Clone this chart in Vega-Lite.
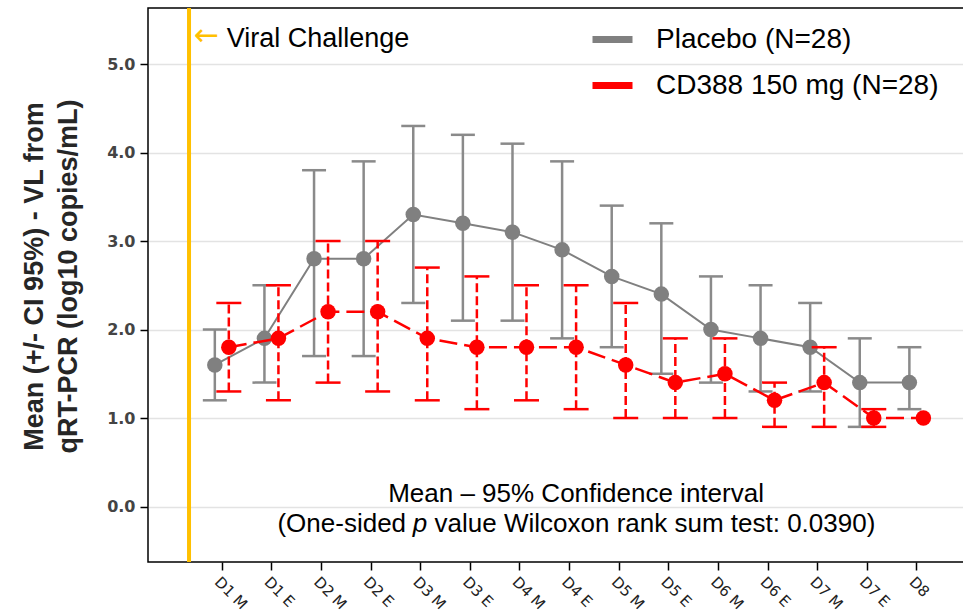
{
  "$schema": "https://vega.github.io/schema/vega-lite/v6.json",
  "width": 817,
  "height": 554,
  "autosize": {"type": "none"},
  "padding": {"left": 148, "top": 8, "right": 0, "bottom": 53},
  "background": "white",
  "config": {
    "view": {"stroke": "#000", "strokeWidth": 1.5},
    "font": "Liberation Sans"
  },
  "datasets": {
    "vl": [
      {"day": "D1 M", "t": 1, "group": "Placebo (N=28)", "mean": 1.6, "lo": 1.2, "hi": 2.0},
      {"day": "D1 E", "t": 2, "group": "Placebo (N=28)", "mean": 1.9, "lo": 1.4, "hi": 2.5},
      {"day": "D2 M", "t": 3, "group": "Placebo (N=28)", "mean": 2.8, "lo": 1.7, "hi": 3.8},
      {"day": "D2 E", "t": 4, "group": "Placebo (N=28)", "mean": 2.8, "lo": 1.7, "hi": 3.9},
      {"day": "D3 M", "t": 5, "group": "Placebo (N=28)", "mean": 3.3, "lo": 2.3, "hi": 4.3},
      {"day": "D3 E", "t": 6, "group": "Placebo (N=28)", "mean": 3.2, "lo": 2.1, "hi": 4.2},
      {"day": "D4 M", "t": 7, "group": "Placebo (N=28)", "mean": 3.1, "lo": 2.1, "hi": 4.1},
      {"day": "D4 E", "t": 8, "group": "Placebo (N=28)", "mean": 2.9, "lo": 1.9, "hi": 3.9},
      {"day": "D5 M", "t": 9, "group": "Placebo (N=28)", "mean": 2.6, "lo": 1.8, "hi": 3.4},
      {"day": "D5 E", "t": 10, "group": "Placebo (N=28)", "mean": 2.4, "lo": 1.5, "hi": 3.2},
      {"day": "D6 M", "t": 11, "group": "Placebo (N=28)", "mean": 2.0, "lo": 1.4, "hi": 2.6},
      {"day": "D6 E", "t": 12, "group": "Placebo (N=28)", "mean": 1.9, "lo": 1.3, "hi": 2.5},
      {"day": "D7 M", "t": 13, "group": "Placebo (N=28)", "mean": 1.8, "lo": 1.3, "hi": 2.3},
      {"day": "D7 E", "t": 14, "group": "Placebo (N=28)", "mean": 1.4, "lo": 0.9, "hi": 1.9},
      {"day": "D8", "t": 15, "group": "Placebo (N=28)", "mean": 1.4, "lo": 1.1, "hi": 1.8},
      {"day": "D1 M", "t": 1, "group": "CD388 150 mg (N=28)", "mean": 1.8, "lo": 1.3, "hi": 2.3},
      {"day": "D1 E", "t": 2, "group": "CD388 150 mg (N=28)", "mean": 1.9, "lo": 1.2, "hi": 2.5},
      {"day": "D2 M", "t": 3, "group": "CD388 150 mg (N=28)", "mean": 2.2, "lo": 1.4, "hi": 3.0},
      {"day": "D2 E", "t": 4, "group": "CD388 150 mg (N=28)", "mean": 2.2, "lo": 1.3, "hi": 3.0},
      {"day": "D3 M", "t": 5, "group": "CD388 150 mg (N=28)", "mean": 1.9, "lo": 1.2, "hi": 2.7},
      {"day": "D3 E", "t": 6, "group": "CD388 150 mg (N=28)", "mean": 1.8, "lo": 1.1, "hi": 2.6},
      {"day": "D4 M", "t": 7, "group": "CD388 150 mg (N=28)", "mean": 1.8, "lo": 1.2, "hi": 2.5},
      {"day": "D4 E", "t": 8, "group": "CD388 150 mg (N=28)", "mean": 1.8, "lo": 1.1, "hi": 2.5},
      {"day": "D5 M", "t": 9, "group": "CD388 150 mg (N=28)", "mean": 1.6, "lo": 1.0, "hi": 2.3},
      {"day": "D5 E", "t": 10, "group": "CD388 150 mg (N=28)", "mean": 1.4, "lo": 1.0, "hi": 1.9},
      {"day": "D6 M", "t": 11, "group": "CD388 150 mg (N=28)", "mean": 1.5, "lo": 1.0, "hi": 1.9},
      {"day": "D6 E", "t": 12, "group": "CD388 150 mg (N=28)", "mean": 1.2, "lo": 0.9, "hi": 1.4},
      {"day": "D7 M", "t": 13, "group": "CD388 150 mg (N=28)", "mean": 1.4, "lo": 0.9, "hi": 1.8},
      {"day": "D7 E", "t": 14, "group": "CD388 150 mg (N=28)", "mean": 1.0, "lo": 0.9, "hi": 1.1},
      {"day": "D8", "t": 15, "group": "CD388 150 mg (N=28)", "mean": 1.0, "lo": null, "hi": null}
    ]
  },
  "data": {"name": "vl"},
  "encoding": {
    "x": {
      "field": "t",
      "type": "quantitative",
      "scale": {"domain": [-0.488, 15.98], "nice": false, "zero": false},
      "axis": {
        "values": [1, 2, 3, 4, 5, 6, 7, 8, 9, 10, 11, 12, 13, 14, 15],
        "labelExpr": "['D1 M','D1 E','D2 M','D2 E','D3 M','D3 E','D4 M','D4 E','D5 M','D5 E','D6 M','D6 E','D7 M','D7 E','D8'][datum.value-1]",
        "labelAngle": 45,
        "labelAlign": "left",
        "labelBaseline": "top",
        "labelFontSize": 15,
        "labelFont": "DejaVu Sans",
        "labelColor": "#222",
        "labelPadding": 4,
        "labelOverlap": false,
        "labelFlush": false,
        "labelBound": false,
        "tickSize": 8,
        "tickColor": "#000",
        "tickWidth": 1.5,
        "domain": false,
        "grid": false,
        "title": null
      }
    }
  },
  "layer": [
    {
      "data": {"values": [{"t": 0.339}]},
      "mark": {"type": "rule", "color": "#FFC000", "strokeWidth": 4},
      "encoding": {}
    },
    {
      "transform": [{"filter": "datum.group == 'Placebo (N=28)'"}],
      "mark": {"type": "rule", "color": "#8a8a8a", "strokeWidth": 2.5, "xOffset": -7},
      "encoding": {
        "y": {
          "field": "lo",
          "type": "quantitative",
          "scale": {"domain": [-0.627, 5.633], "nice": false, "zero": false},
          "axis": {
            "values": [0, 1, 2, 3, 4, 5],
            "format": ".1f",
            "labelFontSize": 16,
            "labelFont": "DejaVu Sans",
            "labelFontWeight": "bold",
            "labelColor": "#444",
            "labelPadding": 5,
            "labelFlush": false,
            "tickSize": 8,
            "tickColor": "#000",
            "tickWidth": 1.5,
            "domain": false,
            "grid": true,
            "gridColor": "#e3e3e3",
            "gridWidth": 1.5,
            "title": ["Mean (+/- CI 95%) - VL from", "qRT-PCR (log10 copies/mL)"],
            "titleFont": "Liberation Sans",
            "titleFontSize": 27,
            "titleFontWeight": "bold",
            "titleColor": "#262626",
            "titleAngle": -90,
            "titleAlign": "center",
            "titleBaseline": "top",
            "titleLineHeight": 34,
            "titleX": -127,
            "titleY": 268
          }
        },
        "y2": {"field": "hi"}
      }
    },
    {
      "transform": [{"filter": "datum.group == 'Placebo (N=28)'"}],
      "mark": {"type": "tick", "orient": "horizontal", "size": 24, "thickness": 2.5, "color": "#8a8a8a", "opacity": 1, "xOffset": -7},
      "encoding": {"y": {"field": "lo", "type": "quantitative"}}
    },
    {
      "transform": [{"filter": "datum.group == 'Placebo (N=28)'"}],
      "mark": {"type": "tick", "orient": "horizontal", "size": 24, "thickness": 2.5, "color": "#8a8a8a", "opacity": 1, "xOffset": -7},
      "encoding": {"y": {"field": "hi", "type": "quantitative"}}
    },
    {
      "transform": [{"filter": "datum.group == 'Placebo (N=28)'"}],
      "mark": {"type": "line", "strokeWidth": 2, "xOffset": -7},
      "encoding": {
        "y": {"field": "mean", "type": "quantitative"},
        "color": {
          "field": "group",
          "type": "nominal",
          "scale": {"domain": ["Placebo (N=28)", "CD388 150 mg (N=28)"], "range": ["#808080", "#ff0000"]},
          "legend": {
            "title": null,
            "orient": "none",
            "legendX": 441,
            "legendY": 8,
            "padding": 0,
            "symbolType": "stroke",
            "symbolSize": 1600,
            "symbolStrokeWidth": 7,
            "labelFontSize": 28,
            "labelFont": "Liberation Sans",
            "labelColor": "#000",
            "labelOffset": 20,
            "labelLimit": 500,
            "rowPadding": 8
          }
        }
      }
    },
    {
      "transform": [{"filter": "datum.group == 'Placebo (N=28)'"}],
      "mark": {"type": "circle", "size": 240, "color": "#808080", "opacity": 1, "xOffset": -7},
      "encoding": {"y": {"field": "mean", "type": "quantitative"}}
    },
    {
      "transform": [{"filter": "datum.group == 'CD388 150 mg (N=28)'"}],
      "mark": {"type": "rule", "color": "#ff0000", "strokeWidth": 2.5, "strokeDash": [9, 4], "xOffset": 7},
      "encoding": {
        "y": {"field": "lo", "type": "quantitative"},
        "y2": {"field": "hi"}
      }
    },
    {
      "transform": [{"filter": "datum.group == 'CD388 150 mg (N=28)'"}],
      "mark": {"type": "tick", "orient": "horizontal", "size": 25, "thickness": 2.5, "color": "#ff0000", "opacity": 1, "xOffset": 7},
      "encoding": {"y": {"field": "lo", "type": "quantitative"}}
    },
    {
      "transform": [{"filter": "datum.group == 'CD388 150 mg (N=28)'"}],
      "mark": {"type": "tick", "orient": "horizontal", "size": 25, "thickness": 2.5, "color": "#ff0000", "opacity": 1, "xOffset": 7},
      "encoding": {"y": {"field": "hi", "type": "quantitative"}}
    },
    {
      "transform": [{"filter": "datum.group == 'CD388 150 mg (N=28)'"}],
      "mark": {"type": "line", "strokeWidth": 2.5, "strokeDash": [18, 7], "color": "#ff0000", "xOffset": 7},
      "encoding": {
        "y": {"field": "mean", "type": "quantitative"}
      }
    },
    {
      "transform": [{"filter": "datum.group == 'CD388 150 mg (N=28)'"}],
      "mark": {"type": "circle", "size": 240, "color": "#ff0000", "opacity": 1, "xOffset": 7},
      "encoding": {"y": {"field": "mean", "type": "quantitative"}}
    },
    {
      "data": {"values": [{"t": 0.44, "y": 5.21, "text": "←"}]},
      "mark": {"type": "text", "align": "left", "baseline": "alphabetic", "font": "DejaVu Sans", "fontSize": 30, "color": "#FFC000"},
      "encoding": {"y": {"field": "y", "type": "quantitative"}, "text": {"field": "text"}}
    },
    {
      "data": {"values": [{"t": 1.099, "y": 5.192, "text": "Viral Challenge"}]},
      "mark": {"type": "text", "align": "left", "baseline": "alphabetic", "fontSize": 27, "color": "#000"},
      "encoding": {"y": {"field": "y", "type": "quantitative"}, "text": {"field": "text"}}
    },
    {
      "data": {"values": [{"t": 8.14, "y": 0.141, "text": "Mean – 95% Confidence interval"}]},
      "mark": {"type": "text", "align": "center", "baseline": "middle", "fontSize": 26, "color": "#000"},
      "encoding": {"y": {"field": "y", "type": "quantitative"}, "text": {"field": "text"}}
    },
    {
      "data": {"values": [{"t": 4.714, "y": -0.198, "text": "(One-sided"}]},
      "mark": {"type": "text", "align": "right", "baseline": "middle", "fontSize": 26, "color": "#000"},
      "encoding": {"y": {"field": "y", "type": "quantitative"}, "text": {"field": "text"}}
    },
    {
      "data": {"values": [{"t": 4.996, "y": -0.198, "text": "p"}]},
      "mark": {"type": "text", "align": "center", "baseline": "middle", "fontSize": 26, "fontStyle": "italic", "color": "#000"},
      "encoding": {"y": {"field": "y", "type": "quantitative"}, "text": {"field": "text"}}
    },
    {
      "data": {"values": [{"t": 5.288, "y": -0.198, "text": "value Wilcoxon rank sum test: 0.0390)"}]},
      "mark": {"type": "text", "align": "left", "baseline": "middle", "fontSize": 26, "color": "#000"},
      "encoding": {"y": {"field": "y", "type": "quantitative"}, "text": {"field": "text"}}
    }
  ]
}
